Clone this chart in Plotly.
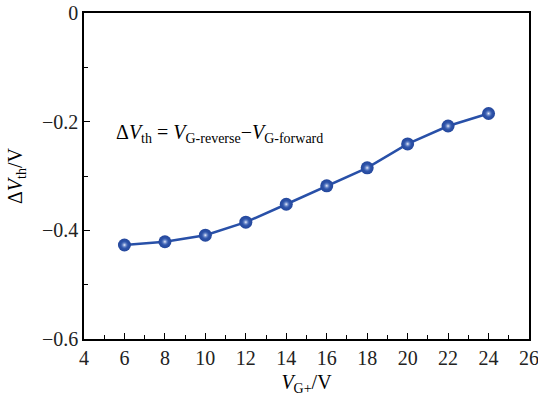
import plotly.graph_objects as go

vg_plus = [6, 8, 10, 12, 14, 16, 18, 20, 22, 24]
delta_vth = [-0.427, -0.421, -0.409, -0.385, -0.352, -0.318, -0.285, -0.241, -0.208, -0.185]

x_ticks = [4, 6, 8, 10, 12, 14, 16, 18, 20, 22, 24, 26]
y_ticks = [-0.6, -0.4, -0.2, 0]
y_tick_text = ["−0.6", "−0.4", "−0.2", "0"]

font_family = "Liberation Serif, DejaVu Serif, serif"
ball = "#2b50a8"

fig = go.Figure()
fig.add_trace(go.Scatter(
    x=vg_plus, y=delta_vth, mode="lines+markers",
    line=dict(color="#2850a8", width=2.5),
    marker=dict(size=13, color="#24479c",
                gradient=dict(type="radial", color="#3a62b8"),
                line=dict(width=0)),
    showlegend=False, hoverinfo="skip",
))
fig.add_trace(go.Scatter(
    x=vg_plus, y=delta_vth, mode="markers",
    marker=dict(size=8, color="rgba(58,98,184,0)",
                gradient=dict(type="radial", color="#f2f5ff"),
                line=dict(width=0)),
    showlegend=False,
))

fig.add_annotation(
    x=5.5, y=-0.222, xref="x", yref="y", xanchor="left", yanchor="middle",
    text="Δ<i>V</i><sub>th</sub> = <i>V</i><sub>G-reverse</sub>−<i>V</i><sub>G-forward</sub>",
    showarrow=False, font=dict(family=font_family, size=20, color="black"),
)

axis_common = dict(
    showline=True, linecolor="black", linewidth=1.5, mirror=True,
    ticks="inside", ticklen=6, tickwidth=1.2, tickcolor="black",
    showgrid=False, zeroline=False, automargin=False,
    ticklabeloverflow="allow",
    tickfont=dict(family=font_family, size=20, color="#222"),
)

fig.update_xaxes(
    range=[4, 26], tickvals=x_ticks,
    minor=dict(dtick=1, tick0=4, ticks="inside", ticklen=4, tickwidth=1.2, tickcolor="black"),
    title=dict(text="<i>V</i><sub>G+</sub>/V", font=dict(family=font_family, size=20, color="black"), standoff=12),
    **axis_common,
)
fig.update_yaxes(
    range=[-0.6, 0], tickvals=y_ticks, ticktext=y_tick_text,
    minor=dict(dtick=0.1, tick0=0, ticks="inside", ticklen=4, tickwidth=1.2, tickcolor="black"),
    title=dict(text="Δ<i>V</i><sub>th</sub>/V", font=dict(family=font_family, size=20, color="black"), standoff=14),
    **axis_common,
)

fig.update_layout(
    width=538, height=396,
    margin=dict(l=84, r=9, t=13, b=57),
    paper_bgcolor="white", plot_bgcolor="white",
)

fig.write_html("out.html")
